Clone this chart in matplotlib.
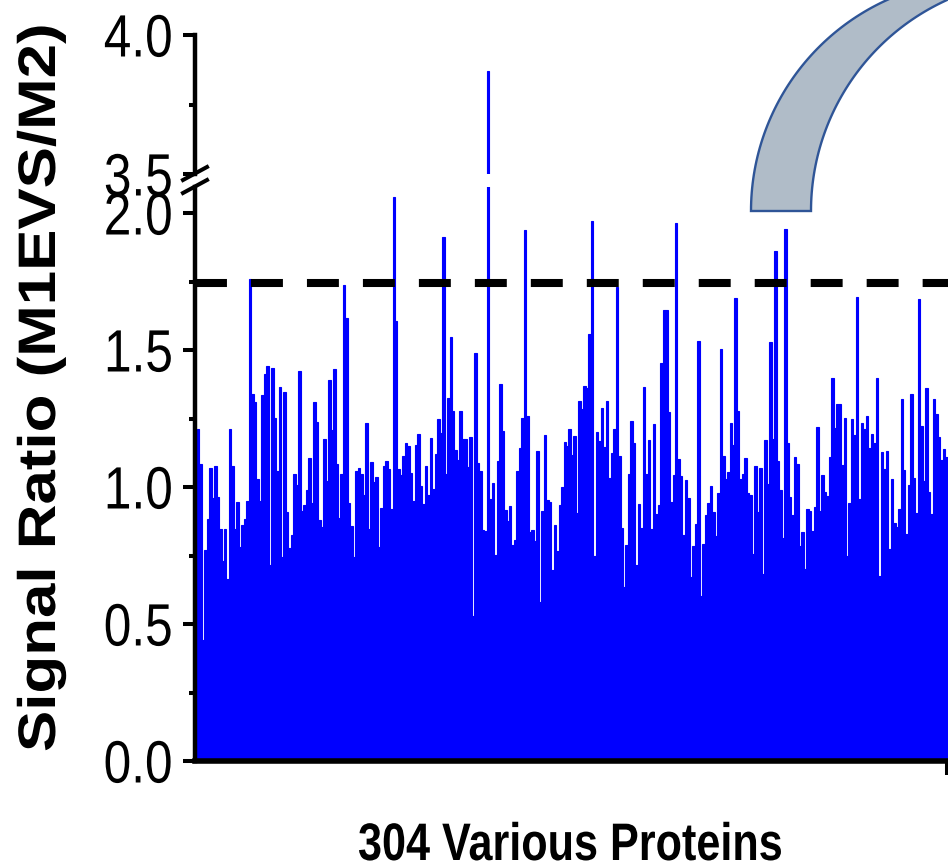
import numpy as np
import matplotlib
matplotlib.use("Agg")
import matplotlib.pyplot as plt
from matplotlib.patches import Polygon
from matplotlib.lines import Line2D
from matplotlib.patheffects import AbstractPathEffect
from matplotlib.ticker import MultipleLocator, FixedLocator
from matplotlib.transforms import Affine2D

plt.rcParams['lines.scale_dashes'] = False

ratios = [
 1.213,1.083,0.44,0.770,0.882,1.070,0.960,1.075,0.964,0.845,
 0.731,0.845,0.664,1.213,1.075,0.845,0.946,0.780,0.860,0.882,
 0.948,1.760,1.341,1.311,1.030,0.948,1.335,1.411,1.442,0.714,
 1.435,1.252,1.057,1.366,0.743,1.347,0.909,0.778,0.825,1.046,
 1.009,1.425,0.913,0.935,0.990,1.105,0.941,1.309,1.237,0.880,
 0.853,1.175,1.021,1.391,1.209,1.431,1.085,0.887,1.048,1.738,
 1.616,0.940,0.858,0.743,1.059,1.069,1.048,0.969,1.232,0.845,
 1.091,1.019,1.038,0.780,0.924,1.075,1.094,1.065,0.920,2.060,
 1.606,1.065,1.042,1.112,1.162,1.151,1.051,0.948,1.154,1.192,
 1.002,0.937,1.076,0.971,1.180,0.993,1.121,1.249,1.197,1.912,
 1.047,1.325,1.547,1.277,1.136,1.097,1.279,1.177,1.177,1.074,
 1.183,0.528,1.489,1.088,1.057,0.843,0.839,3.87,0.958,1.014,
 0.753,1.096,1.375,1.205,0.917,0.875,0.930,0.790,0.806,1.057,
 1.143,1.253,1.938,1.260,0.835,0.843,0.803,1.131,0.580,0.914,
 1.191,0.951,0.946,0.697,0.860,0.768,0.935,0.999,1.163,1.151,
 1.210,1.115,1.185,0.904,1.313,1.285,1.369,1.360,1.560,1.972,
 0.747,1.201,1.168,1.287,1.146,1.313,1.034,1.125,1.211,1.731,
 1.112,0.851,0.634,0.787,1.048,1.242,1.162,0.714,0.937,0.852,
 1.366,1.049,1.170,0.847,1.231,0.901,0.935,1.454,1.647,1.647,
 1.274,0.945,1.042,1.965,1.103,1.040,0.823,1.024,0.960,0.670,
 0.784,0.865,1.533,0.602,0.791,0.898,0.942,1.002,0.910,0.821,
 0.977,1.504,1.114,1.029,1.053,1.233,1.152,1.688,1.279,1.031,
 1.048,1.105,0.977,0.970,0.754,1.076,0.909,1.068,0.681,1.172,
 1.010,1.531,1.176,1.860,1.096,0.990,0.813,1.943,1.160,0.964,
 0.897,1.110,1.085,0.784,0.836,0.701,0.921,0.914,0.839,0.928,
 1.219,0.912,1.043,0.982,0.967,1.110,1.397,1.215,1.304,1.302,
 1.082,1.253,0.750,0.940,1.247,1.190,1.692,0.957,1.233,1.213,
 1.260,1.141,1.193,1.162,1.398,0.676,1.126,1.064,1.132,0.775,
 1.030,0.868,0.853,0.919,1.321,1.063,0.829,1.006,1.341,1.034,
 0.906,1.687,1.221,1.021,1.363,0.982,0.902,1.322,1.268,1.183,
 1.097,1.140,1.110,1.08,
]
threshold = 1.743
lower_ticks = [0.0, 0.5, 1.0, 1.5, 2.0]
upper_ticks = [3.5, 4.0]
ylabel = "Signal Ratio (M1EVS/M2)"
xlabel = "304 Various Proteins"

W, H = 948, 865
BLUE = "#0000ff"
FONT = ["Liberation Sans", "DejaVu Sans"]


class Stretch(AbstractPathEffect):
    """Scale glyph outlines along the writing direction, keeping the text as text."""

    def __init__(self, sx, dx=0.0):
        super().__init__()
        self.sx = sx
        self.dx = dx

    def draw_path(self, renderer, gc, tpath, affine, rgbFace=None):
        t = Affine2D().scale(self.sx, 1.0) + affine + Affine2D().translate(self.dx, 0)
        renderer.draw_path(gc, tpath, t, rgbFace)


fig = plt.figure(figsize=(W / 100, H / 100), dpi=100, facecolor="white")


def axes_px(x0, x1, ytop, ybot):
    return fig.add_axes([x0 / W, 1 - ybot / H, (x1 - x0) / W, (ybot - ytop) / H])


ax_low = axes_px(194.6, 948, 187, 761)
ax_up = axes_px(194.6, 948, 35, 174)

x = np.arange(len(ratios))
xlim = (-1.37, 302.66)

for ax, ylim, ticks in ((ax_low, (0, 574 / 274), lower_ticks),
                        (ax_up, (3.5, 4.0), upper_ticks)):
    ax.bar(x, ratios, width=1.0, color=BLUE, edgecolor=BLUE, linewidth=0.8)
    ax.set_xlim(*xlim)
    ax.set_ylim(*ylim)
    ax.patch.set_alpha(0)
    for s in ("top", "right"):
        ax.spines[s].set_visible(False)
    ax.spines["left"].set_linewidth(3.2)
    ax.yaxis.set_major_locator(FixedLocator(ticks))
    ax.yaxis.set_minor_locator(MultipleLocator(0.25))
    labels = ax.set_yticklabels([f"{t:.1f}" for t in ticks], fontfamily=FONT, fontsize=43)
    for lab in labels:
        lab.set_path_effects([Stretch(0.83, 14.2)])
    ax.tick_params(axis="y", which="major", length=8.6, width=2.9, pad=7, color="black")
    ax.tick_params(axis="y", which="minor", length=4.3, width=2.9, color="black")

ax_up.spines["bottom"].set_visible(False)
ax_up.set_xticks([])

ax_low.spines["bottom"].set_linewidth(4.0)
ax_low.set_xticks([302.26])
ax_low.set_xticklabels([""])
ax_low.tick_params(axis="x", length=10, width=2.9, color="black")

ax_low.axhline(threshold, color="black", lw=5.8, dashes=(23, 17.3),
               dash_capstyle="butt", zorder=5)

# Axis-break slashes
for ytop_px in (180, 193):
    fig.add_artist(Line2D([183 / W, 207 / W],
                          [1 - ytop_px / H, 1 - (ytop_px - 13) / H],
                          color="black", lw=2.9, transform=fig.transFigure))

# Grey block arc in the upper right corner
theta = np.linspace(np.pi, np.pi / 2, 80)
R = 231.7
outer_x = 751 + R + R * np.cos(theta)
inner_x = 811 + R + R * np.cos(theta)
arc_y = 211 - R * np.sin(theta)
px = np.r_[outer_x, inner_x[::-1]]
py = np.r_[arc_y, arc_y[::-1]]
fig.add_artist(Polygon(np.c_[px / W, 1 - py / H], closed=True,
                       facecolor="#b0bcc8", edgecolor="#2f5597", linewidth=1.7,
                       transform=fig.transFigure, zorder=6))

yl = fig.text(55 / W, 1 - 752 / H, ylabel, rotation=90, ha="left", va="baseline",
              rotation_mode="anchor", fontfamily=FONT, fontweight="bold", fontsize=38)
yl.set_path_effects([Stretch(1.172)])
xl = fig.text(358 / W, 1 - 860 / H, xlabel, ha="left", va="baseline",
              fontfamily=FONT, fontweight="bold", fontsize=38)
xl.set_path_effects([Stretch(0.818)])

fig.savefig("out.png", dpi=100, facecolor="white")
